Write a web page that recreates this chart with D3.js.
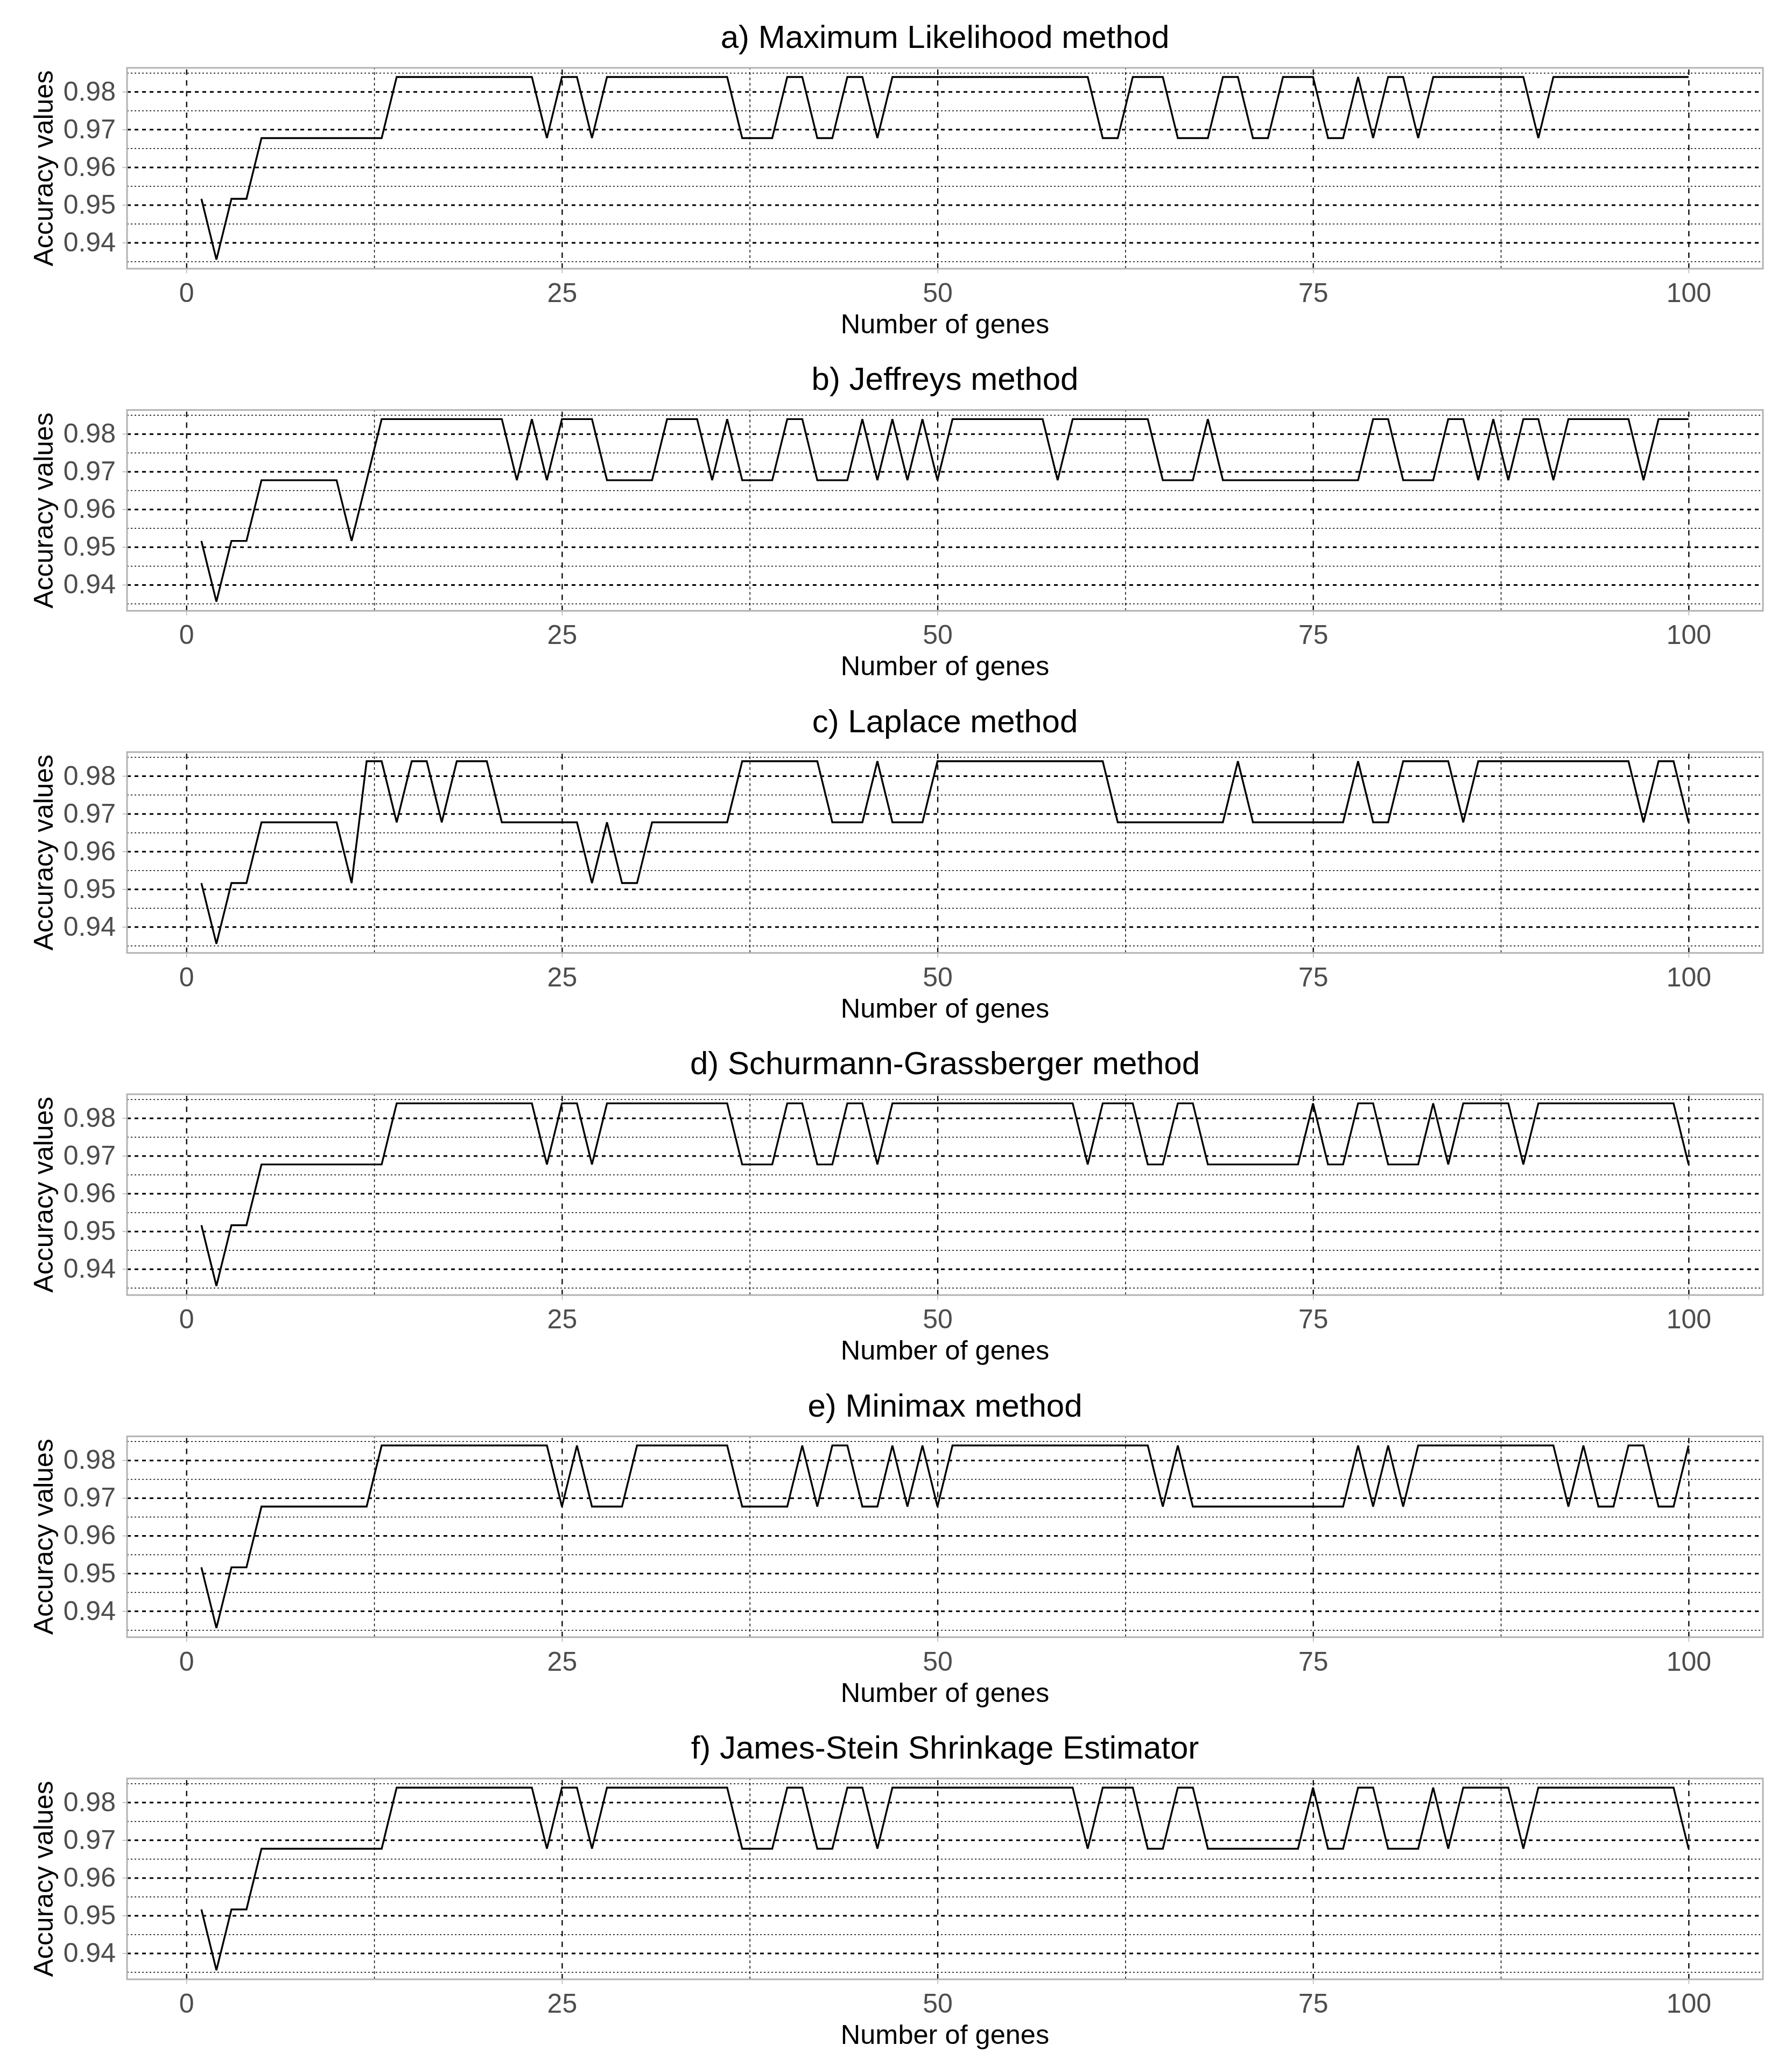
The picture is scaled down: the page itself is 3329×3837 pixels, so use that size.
<!DOCTYPE html>
<html><head><meta charset="utf-8">
<script src="https://cdn.jsdelivr.net/npm/d3@7"></script>
<style>body{margin:0;background:#fff}</style>
</head><body>
<svg id="chart" width="3329" height="3837" xmlns="http://www.w3.org/2000/svg"></svg>
<script>
// ---------- data ----------
const genes = d3.range(1, 101); // number of genes 1..100

const panelTitles = [
  "a) Maximum Likelihood method",
  "b) Jeffreys method",
  "c) Laplace method",
  "d) Schurmann-Grassberger method",
  "e) Minimax method",
  "f) James-Stein Shrinkage Estimator"
];

const mlValues = [
  0.9516,0.9355,0.9516,0.9516,0.9677,0.9677,0.9677,0.9677,0.9677,0.9677,
  0.9677,0.9677,0.9677,0.9839,0.9839,0.9839,0.9839,0.9839,0.9839,0.9839,
  0.9839,0.9839,0.9839,0.9677,0.9839,0.9839,0.9677,0.9839,0.9839,0.9839,
  0.9839,0.9839,0.9839,0.9839,0.9839,0.9839,0.9677,0.9677,0.9677,0.9839,
  0.9839,0.9677,0.9677,0.9839,0.9839,0.9677,0.9839,0.9839,0.9839,0.9839,
  0.9839,0.9839,0.9839,0.9839,0.9839,0.9839,0.9839,0.9839,0.9839,0.9839,
  0.9677,0.9677,0.9839,0.9839,0.9839,0.9677,0.9677,0.9677,0.9839,0.9839,
  0.9677,0.9677,0.9839,0.9839,0.9839,0.9677,0.9677,0.9839,0.9677,0.9839,
  0.9839,0.9677,0.9839,0.9839,0.9839,0.9839,0.9839,0.9839,0.9839,0.9677,
  0.9839,0.9839,0.9839,0.9839,0.9839,0.9839,0.9839,0.9839,0.9839,0.9839
];

const jeffreysValues = [
  0.9516,0.9355,0.9516,0.9516,0.9677,0.9677,0.9677,0.9677,0.9677,0.9677,
  0.9516,0.9677,0.9839,0.9839,0.9839,0.9839,0.9839,0.9839,0.9839,0.9839,
  0.9839,0.9677,0.9839,0.9677,0.9839,0.9839,0.9839,0.9677,0.9677,0.9677,
  0.9677,0.9839,0.9839,0.9839,0.9677,0.9839,0.9677,0.9677,0.9677,0.9839,
  0.9839,0.9677,0.9677,0.9677,0.9839,0.9677,0.9839,0.9677,0.9839,0.9677,
  0.9839,0.9839,0.9839,0.9839,0.9839,0.9839,0.9839,0.9677,0.9839,0.9839,
  0.9839,0.9839,0.9839,0.9839,0.9677,0.9677,0.9677,0.9839,0.9677,0.9677,
  0.9677,0.9677,0.9677,0.9677,0.9677,0.9677,0.9677,0.9677,0.9839,0.9839,
  0.9677,0.9677,0.9677,0.9839,0.9839,0.9677,0.9839,0.9677,0.9839,0.9839,
  0.9677,0.9839,0.9839,0.9839,0.9839,0.9839,0.9677,0.9839,0.9839,0.9839
];

const laplaceValues = [
  0.9516,0.9355,0.9516,0.9516,0.9677,0.9677,0.9677,0.9677,0.9677,0.9677,
  0.9516,0.9839,0.9839,0.9677,0.9839,0.9839,0.9677,0.9839,0.9839,0.9839,
  0.9677,0.9677,0.9677,0.9677,0.9677,0.9677,0.9516,0.9677,0.9516,0.9516,
  0.9677,0.9677,0.9677,0.9677,0.9677,0.9677,0.9839,0.9839,0.9839,0.9839,
  0.9839,0.9839,0.9677,0.9677,0.9677,0.9839,0.9677,0.9677,0.9677,0.9839,
  0.9839,0.9839,0.9839,0.9839,0.9839,0.9839,0.9839,0.9839,0.9839,0.9839,
  0.9839,0.9677,0.9677,0.9677,0.9677,0.9677,0.9677,0.9677,0.9677,0.9839,
  0.9677,0.9677,0.9677,0.9677,0.9677,0.9677,0.9677,0.9839,0.9677,0.9677,
  0.9839,0.9839,0.9839,0.9839,0.9677,0.9839,0.9839,0.9839,0.9839,0.9839,
  0.9839,0.9839,0.9839,0.9839,0.9839,0.9839,0.9677,0.9839,0.9839,0.9677
];

const schurmannValues = [
  0.9516,0.9355,0.9516,0.9516,0.9677,0.9677,0.9677,0.9677,0.9677,0.9677,
  0.9677,0.9677,0.9677,0.9839,0.9839,0.9839,0.9839,0.9839,0.9839,0.9839,
  0.9839,0.9839,0.9839,0.9677,0.9839,0.9839,0.9677,0.9839,0.9839,0.9839,
  0.9839,0.9839,0.9839,0.9839,0.9839,0.9839,0.9677,0.9677,0.9677,0.9839,
  0.9839,0.9677,0.9677,0.9839,0.9839,0.9677,0.9839,0.9839,0.9839,0.9839,
  0.9839,0.9839,0.9839,0.9839,0.9839,0.9839,0.9839,0.9839,0.9839,0.9677,
  0.9839,0.9839,0.9839,0.9677,0.9677,0.9839,0.9839,0.9677,0.9677,0.9677,
  0.9677,0.9677,0.9677,0.9677,0.9839,0.9677,0.9677,0.9839,0.9839,0.9677,
  0.9677,0.9677,0.9839,0.9677,0.9839,0.9839,0.9839,0.9839,0.9677,0.9839,
  0.9839,0.9839,0.9839,0.9839,0.9839,0.9839,0.9839,0.9839,0.9839,0.9677
];

const minimaxValues = [
  0.9516,0.9355,0.9516,0.9516,0.9677,0.9677,0.9677,0.9677,0.9677,0.9677,
  0.9677,0.9677,0.9839,0.9839,0.9839,0.9839,0.9839,0.9839,0.9839,0.9839,
  0.9839,0.9839,0.9839,0.9839,0.9677,0.9839,0.9677,0.9677,0.9677,0.9839,
  0.9839,0.9839,0.9839,0.9839,0.9839,0.9839,0.9677,0.9677,0.9677,0.9677,
  0.9839,0.9677,0.9839,0.9839,0.9677,0.9677,0.9839,0.9677,0.9839,0.9677,
  0.9839,0.9839,0.9839,0.9839,0.9839,0.9839,0.9839,0.9839,0.9839,0.9839,
  0.9839,0.9839,0.9839,0.9839,0.9677,0.9839,0.9677,0.9677,0.9677,0.9677,
  0.9677,0.9677,0.9677,0.9677,0.9677,0.9677,0.9677,0.9839,0.9677,0.9839,
  0.9677,0.9839,0.9839,0.9839,0.9839,0.9839,0.9839,0.9839,0.9839,0.9839,
  0.9839,0.9677,0.9839,0.9677,0.9677,0.9839,0.9839,0.9677,0.9677,0.9839
];

const jamesSteinValues = [
  0.9516,0.9355,0.9516,0.9516,0.9677,0.9677,0.9677,0.9677,0.9677,0.9677,
  0.9677,0.9677,0.9677,0.9839,0.9839,0.9839,0.9839,0.9839,0.9839,0.9839,
  0.9839,0.9839,0.9839,0.9677,0.9839,0.9839,0.9677,0.9839,0.9839,0.9839,
  0.9839,0.9839,0.9839,0.9839,0.9839,0.9839,0.9677,0.9677,0.9677,0.9839,
  0.9839,0.9677,0.9677,0.9839,0.9839,0.9677,0.9839,0.9839,0.9839,0.9839,
  0.9839,0.9839,0.9839,0.9839,0.9839,0.9839,0.9839,0.9839,0.9839,0.9677,
  0.9839,0.9839,0.9839,0.9677,0.9677,0.9839,0.9839,0.9677,0.9677,0.9677,
  0.9677,0.9677,0.9677,0.9677,0.9839,0.9677,0.9677,0.9839,0.9839,0.9677,
  0.9677,0.9677,0.9839,0.9677,0.9839,0.9839,0.9839,0.9839,0.9677,0.9839,
  0.9839,0.9839,0.9839,0.9839,0.9839,0.9839,0.9839,0.9839,0.9839,0.9677
];

const seriesList = [mlValues, jeffreysValues, laplaceValues, schurmannValues, minimaxValues, jamesSteinValues];

const xMajorTicks = [0, 25, 50, 75, 100];
const xMinorTicks = [12.5, 37.5, 62.5, 87.5];
const yMajorTicks = [0.94, 0.95, 0.96, 0.97, 0.98];
const yMinorTicks = [0.935, 0.945, 0.955, 0.965, 0.975, 0.985];
const xAxisTitle = "Number of genes";
const yAxisTitle = "Accuracy values";

// ---------- layout ----------
const FONT = "'Liberation Sans', Arial, Helvetica, sans-serif";
const panelLeft = 236, panelRight = 3275;
const firstTop = 126, rowStep = 635.4, panelH = 373;

const svg = d3.select("#chart");
svg.append("rect").attr("width", 3329).attr("height", 3837).attr("fill", "#fff");

// ggplot-style 5% expansion
function expand(ext) { const r = ext[1] - ext[0]; return [ext[0] - 0.05 * r, ext[1] + 0.05 * r]; }
const x = d3.scaleLinear().domain(expand(d3.extent(genes))).range([panelLeft, panelRight]);
const allVals = seriesList.flat();
const yDomain = expand(d3.extent(allVals));

seriesList.forEach((vals, i) => {
  const top = firstTop + i * rowStep;
  const bottom = top + panelH;
  const y = d3.scaleLinear().domain(yDomain).range([bottom, top]);
  const g = svg.append("g");

  // gridlines (via axes with full-length ticks)
  const gridMinorY = g.append("g").attr("transform", `translate(${panelLeft},0)`)
    .call(d3.axisLeft(y).tickValues(yMinorTicks).tickSize(-(panelRight - panelLeft)).tickFormat(""));
  gridMinorY.selectAll("line").attr("stroke", "#000").attr("stroke-width", 1.5).attr("stroke-dasharray", "3,4");
  const gridMinorX = g.append("g").attr("transform", `translate(0,${bottom})`)
    .call(d3.axisBottom(x).tickValues(xMinorTicks).tickSize(-panelH).tickFormat(""));
  gridMinorX.selectAll("line").attr("stroke", "#000").attr("stroke-width", 1.5).attr("stroke-dasharray", "5,5");
  const gridMajorY = g.append("g").attr("transform", `translate(${panelLeft},0)`)
    .call(d3.axisLeft(y).tickValues(yMajorTicks).tickSize(-(panelRight - panelLeft)).tickFormat(""));
  gridMajorY.selectAll("line").attr("stroke", "#000").attr("stroke-width", 3).attr("stroke-dasharray", "7,7");
  const gridMajorX = g.append("g").attr("transform", `translate(0,${bottom})`)
    .call(d3.axisBottom(x).tickValues(xMajorTicks).tickSize(-panelH).tickFormat(""));
  gridMajorX.selectAll("line").attr("stroke", "#000").attr("stroke-width", 2.3).attr("stroke-dasharray", "10,10");
  g.selectAll(".domain").remove();

  // data line
  const line = d3.line().x((d, k) => x(genes[k])).y(d => y(d));
  g.append("path").datum(vals).attr("d", line)
    .attr("fill", "none").attr("stroke", "#000").attr("stroke-width", 3.4)
    .attr("stroke-linejoin", "miter").attr("stroke-miterlimit", 4);

  // panel border
  g.append("rect").attr("x", panelLeft).attr("y", top)
    .attr("width", panelRight - panelLeft).attr("height", panelH)
    .attr("fill", "none").attr("stroke", "#b3b3b3").attr("stroke-width", 3);

  // axes with labels
  const ax = g.append("g").attr("transform", `translate(0,${bottom + 1.5})`)
    .call(d3.axisBottom(x).tickValues(xMajorTicks).tickSize(7).tickPadding(18).tickFormat(d3.format("d")));
  ax.select(".domain").remove();
  ax.selectAll("line").attr("stroke", "#b3b3b3").attr("stroke-width", 1.5);
  ax.selectAll("text").attr("font-family", FONT).attr("font-size", 50).attr("fill", "#4d4d4d");

  const ay = g.append("g").attr("transform", `translate(${panelLeft - 1.5},0)`)
    .call(d3.axisLeft(y).tickValues(yMajorTicks).tickSize(7).tickPadding(12.5).tickFormat(d3.format(".2f")));
  ay.select(".domain").remove();
  ay.selectAll("line").attr("stroke", "#b3b3b3").attr("stroke-width", 1.5);
  ay.selectAll("text").attr("font-family", FONT).attr("font-size", 50).attr("fill", "#4d4d4d");

  // titles
  g.append("text").attr("x", (panelLeft + panelRight) / 2).attr("y", top - 37)
    .attr("text-anchor", "middle").attr("font-family", FONT).attr("font-size", 60)
    .attr("fill", "#000").text(panelTitles[i]);
  g.append("text").attr("x", (panelLeft + panelRight) / 2).attr("y", bottom + 120)
    .attr("text-anchor", "middle").attr("font-family", FONT).attr("font-size", 50.5)
    .attr("fill", "#000").text(xAxisTitle);
  g.append("text")
    .attr("transform", `translate(98,${(top + bottom) / 2}) rotate(-90)`)
    .attr("text-anchor", "middle").attr("font-family", FONT).attr("font-size", 50)
    .attr("fill", "#000").text(yAxisTitle);
});
</script>
</body></html>
